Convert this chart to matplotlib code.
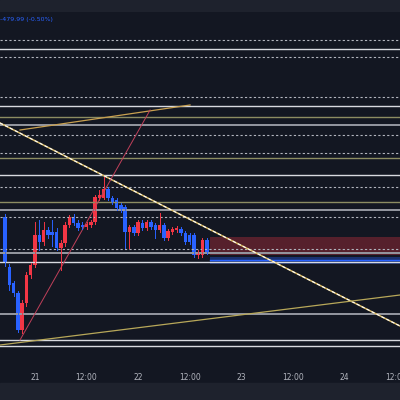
import matplotlib
matplotlib.use("Agg")
import matplotlib.pyplot as plt
from matplotlib.patches import Rectangle

hours = list(range(-7, 41))
opens = [95660,94660,94340,94140,93400,93940,94500,94700,95300,95160,95400,95360,95360,95040,95140,95500,95660,95540,95500,95460,95500,95560,96040,96040,96220,96040,96000,95900,95860,95360,95460,95340,95540,95440,95560,95500,95400,95500,95240,95360,95400,95420,95340,95300,95300,94900,94900,95200]
closes= [94740,94300,94140,93400,93940,94500,94700,95300,95160,95400,95300,95300,95040,95140,95500,95660,95540,95440,95460,95520,95560,96060,96100,96220,96040,95960,95840,95800,95360,95460,95340,95560,95440,95560,95460,95400,95500,95240,95380,95420,95440,95340,95160,95160,94900,94940,95200,94960]
highs = [95720,94720,94380,94180,94000,94560,94740,95560,95600,95560,95460,95600,95440,95200,95560,95700,95720,95600,95560,95560,95600,96100,96200,96460,96260,96080,96040,95940,95900,95500,95500,95600,95600,95600,95600,95540,95740,95540,95420,95460,95480,95460,95380,95340,95340,95000,95240,95240]
lows  = [94680,94200,94080,93360,93340,93880,94440,94660,95000,95100,95240,95080,95000,94600,95080,95460,95500,95400,95420,95420,95460,95520,96000,96020,96000,95920,95800,95760,95040,95040,95300,95300,95400,95400,95420,95240,95360,95200,95200,95320,95360,95300,95120,95120,94860,94840,94860,94920]

hlines = [99200,99020,98860,98060,97880,97660,97500,97300,96940,96840,96500,96260,95960,95800,95660,95020,94940,94760,93720,93200,93080]
hstyles = ['d','s','d','d','s','o','g','d','d','o','s','d','o','g','d','d','g','s','g','s','s']

tick_hours = [0,12,24,36,48,60,72,84]
tick_labels = ["21","12:00","22","12:00","23","12:00","24","12:00"]

BG = "#131722"
fig = plt.figure(figsize=(4,4), dpi=100, facecolor=BG)
ax = fig.add_axes([0, 35/400, 1, 353/400], facecolor=BG)
ax.set_xlim(-8.16, 85.0)
ax.set_ylim(92700, 99760)

for y, s in zip(hlines, hstyles):
    if s == 'd':
        ax.axhline(y, color="#b2b5be", lw=0.8, ls=(0,(2,2)))
    elif s == 's':
        ax.axhline(y, color="#d8dae0", lw=1.0)
    elif s == 'o':
        ax.axhline(y, color="#8c8c62", lw=1.0)
    else:
        ax.axhline(y, color="#9598a1", lw=1.4)

ax.add_patch(Rectangle((40.8, 94900), 50, 360, color="#f23645", alpha=0.3, lw=0))
ax.add_patch(Rectangle((40.8, 94720), 50, 140, color="#2962ff", alpha=0.35, lw=0))
ax.axhline(94800, xmin=(40.8+8.16)/93.16, color="#2962ff", lw=1.0)

ax.plot([-8.16,85.0],[97540,93480], color="#d8b860", lw=1.1)
ax.plot([-8.16,85.0],[97540,93480], color="white", lw=0.8, ls=(0,(3,2)))
ax.plot([-8.16,85.0],[93100,94100], color="#b8a85a", lw=0.9)
ax.plot([-3.5,36.1],[97400,97900], color="#c8a050", lw=0.9)
ax.plot([-3.5,26.8],[93200,97800], color="#c0405a", lw=0.7)

for h,o,c,hi,lo in zip(hours,opens,closes,highs,lows):
    col = "#f23645" if c >= o else "#2962ff"
    ax.plot([h,h],[lo,hi], color=col, lw=0.7)
    ax.add_patch(Rectangle((h-0.4, min(o,c)), 0.8, max(abs(c-o),20), color=col, lw=0))

ax.set_xticks(tick_hours)
ax.set_xticklabels(tick_labels, color="#b2b5be", fontsize=5.5)
ax.tick_params(axis='x', length=0, pad=6)
ax.set_yticks([])
for sp in ax.spines.values():
    sp.set_visible(False)

fig.patches.append(Rectangle((0,0),1,17/400, transform=fig.transFigure, color="#1e222d", zorder=-1))
fig.patches.append(Rectangle((0,388/400),1,12/400, transform=fig.transFigure, color="#1e222d", zorder=-1))
fig.text(0.0, 1-19/400, "-479.99 (-0.50%)", color="#2962ff", fontsize=4.5, va='center', ha='left')

fig.savefig("out.png", dpi=100, facecolor=BG)
